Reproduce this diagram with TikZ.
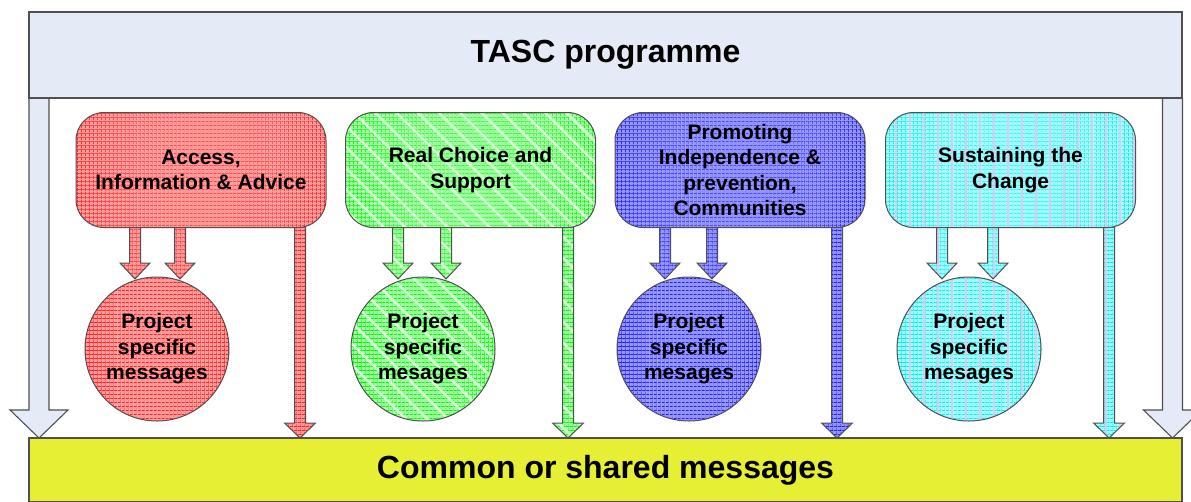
\documentclass[tikz,border=0pt]{standalone}
\usepackage{fontspec}
\setmainfont{Liberation Sans}
\usetikzlibrary{calc,patterns.meta}
\definecolor{rbase}{HTML}{FF9C9C}
\definecolor{rline}{HTML}{FF1F1F}
\definecolor{gbase}{HTML}{A0FFA0}
\definecolor{gline}{HTML}{12EE12}
\definecolor{bbase}{HTML}{9494FF}
\definecolor{bline}{HTML}{2020EE}
\definecolor{cbase}{HTML}{A0FFFF}
\definecolor{cline}{HTML}{12E8E8}
\definecolor{cstripe}{HTML}{E2C6F0}
\definecolor{paleblue}{HTML}{E4EBF6}
\definecolor{yell}{HTML}{E6EF33}
\definecolor{bord}{HTML}{505050}
\newcommand\boxfont{\fontsize{21}{25.5}\selectfont\bfseries}
\newcommand\bigfont{\fontsize{32}{38}\selectfont\bfseries}
% block arrow: style, start, tip, shaft half width, head half width, head length
\newcommand\blockarr[6]{%
  \path[#1] let \p1=(#2), \p2=(#3) in
   (\x1-#4pt,\y1) -- (\x1-#4pt,\y2+#6pt) -- (\x1-#5pt,\y2+#6pt) -- (\x1,\y2)
   -- (\x1+#5pt,\y2+#6pt) -- (\x1+#4pt,\y2+#6pt) -- (\x1+#4pt,\y1) -- cycle;}
\tikzset{
  outl/.style={draw=bord, line width=1pt},
  gridfill/.style 2 args={preaction={fill=#1},
    preaction={pattern={Lines[angle=0,distance=4pt,line width=0.9pt]}, pattern color=#2},
    preaction={pattern={Lines[angle=90,distance=4pt,line width=0.9pt]}, pattern color=#2}},
  redfill/.style={gridfill={rbase}{rline}, outl},
  greenfill/.style={gridfill={gbase}{gline},
    preaction={pattern={Lines[angle=-45,distance=15pt,line width=2.5pt]}, pattern color=white!55!gbase}, outl},
  bluefill/.style={gridfill={bbase}{bline}, outl},
  cyanfill/.style={gridfill={cbase}{cline},
    preaction={pattern={Lines[angle=90,distance=14pt,line width=2pt]}, pattern color=cstripe}, outl},
  palefill/.style={fill=paleblue, draw=bord, line width=1.1pt},
  catbox/.style={rectangle, rounded corners=28pt, minimum width=250pt, minimum height=115pt,
    align=center, inner sep=0pt, font=\boxfont},
  proj/.style={circle, minimum size=144pt, align=center, inner sep=0pt, font=\boxfont},
}
\begin{document}
\begin{tikzpicture}[x=1pt,y=-1pt]
\useasboundingbox (0,0) rectangle (1191,501);
\clip (0,0) rectangle (1191,501);
\fill[white] (0,0) rectangle (1191,501);

% coordinates for the big arrows
\coordinate (Ls) at (39,98);
\coordinate (Le) at (39,438);
\coordinate (Rs) at (1172.5,98);
\coordinate (Re) at (1172.5,438);
\blockarr{palefill}{Ls}{Le}{10}{29}{28}
\blockarr{palefill}{Rs}{Re}{10}{29}{28}

% top and bottom bars
\node[palefill, minimum width=1153pt, minimum height=86pt, inner sep=0pt, font=\bigfont]
  (tasc) at (605.5,55) {TASC programme};
\node[fill=yell, draw=bord, line width=1.1pt, minimum width=1153pt, minimum height=64pt,
  inner sep=0pt, font=\bigfont] (common) at (605.5,470) {Common or shared messages};

% arrow coordinates
\coordinate (r1s) at (135,227);  \coordinate (r1e) at (135,279);
\coordinate (r2s) at (180,227);  \coordinate (r2e) at (180,279);
\coordinate (r3s) at (300,227);  \coordinate (r3e) at (300,438);
\coordinate (g1s) at (398,227);  \coordinate (g1e) at (398,279);
\coordinate (g2s) at (446,227);  \coordinate (g2e) at (446,279);
\coordinate (g3s) at (568,227);  \coordinate (g3e) at (568,438);
\coordinate (b1s) at (665,227);  \coordinate (b1e) at (665,279);
\coordinate (b2s) at (712,227);  \coordinate (b2e) at (712,279);
\coordinate (b3s) at (837,227);  \coordinate (b3e) at (837,438);
\coordinate (c1s) at (942,227);  \coordinate (c1e) at (942,279);
\coordinate (c2s) at (993,227);  \coordinate (c2e) at (993,279);
\coordinate (c3s) at (1109,227); \coordinate (c3e) at (1109,438);

% circles
\node[proj, redfill]   (pR) at (157,349) {Project\\specific\\messages};
\node[proj, greenfill] (pG) at (423,349) {Project\\specific\\mesages};
\node[proj, bluefill]  (pB) at (689,349) {Project\\specific\\mesages};
\node[proj, cyanfill]  (pC) at (969,349) {Project\\specific\\mesages};

% arrows
\blockarr{redfill}{r1s}{r1e}{5.5}{15}{16}
\blockarr{redfill}{r2s}{r2e}{5.5}{15}{16}
\blockarr{redfill}{r3s}{r3e}{5.5}{15.5}{15}
\blockarr{greenfill}{g1s}{g1e}{5.5}{15}{16}
\blockarr{greenfill}{g2s}{g2e}{5.5}{15}{16}
\blockarr{greenfill}{g3s}{g3e}{5.5}{15.5}{15}
\blockarr{bluefill}{b1s}{b1e}{5.5}{15}{16}
\blockarr{bluefill}{b2s}{b2e}{5.5}{15}{16}
\blockarr{bluefill}{b3s}{b3e}{5.5}{15.5}{15}
\blockarr{cyanfill}{c1s}{c1e}{5.5}{15}{16}
\blockarr{cyanfill}{c2s}{c2e}{5.5}{15}{16}
\blockarr{cyanfill}{c3s}{c3e}{5.5}{15.5}{15}

% category boxes
\node[catbox, redfill]   (bR) at (201,170)   {Access,\\Information \& Advice};
\node[catbox, greenfill] (bG) at (470.5,170) {Real Choice and\\Support};
\node[catbox, bluefill]  (bB) at (740,170)   {Promoting\\Independence \&\\prevention,\\Communities};
\node[catbox, cyanfill]  (bC) at (1010.5,170) {Sustaining the\\Change};
\end{tikzpicture}
\end{document}
